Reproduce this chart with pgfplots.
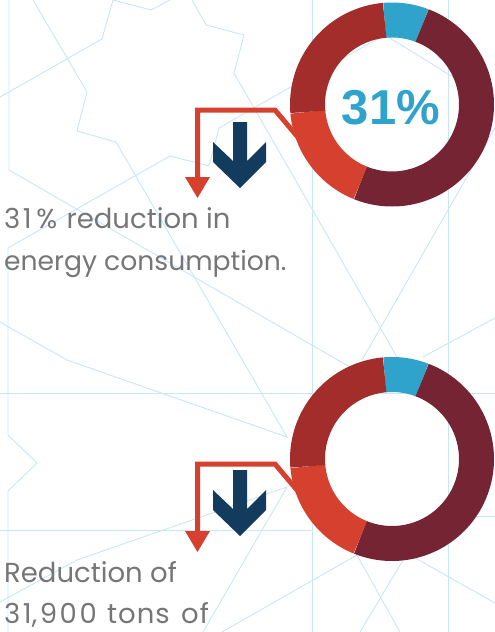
\documentclass[border=0pt]{standalone}
\usepackage{pgfplots}
\pgfplotsset{compat=1.18}
\usepackage{fontspec}
\setmainfont{Poppins}
\newfontfamily\numfont{Liberation Sans}
\definecolor{bgline}{HTML}{C6E7F7}
\definecolor{cblue}{HTML}{2FA3CB}
\definecolor{cmaroon}{HTML}{742432}
\definecolor{cbrick}{HTML}{A22D2B}
\definecolor{corange}{HTML}{D6402F}
\definecolor{cnavy}{HTML}{133B5E}
\definecolor{ctext}{HTML}{767676}
\tikzset{bg/.style={bgline,line width=0.9pt,solid,no marks}}
% donut shares (percent): blue 7.2, maroon 50.3, orange 17.5, brick 25.0 ; start angle -5 deg (clockwise from top)
\newcommand{\donut}[1]{%
  \addplot[cblue,no marks,line width=35pt,domain=-5:20.9,samples=30] ({392+84.5*sin(x)},{#1-84.5*cos(x)});
  \addplot[cmaroon,no marks,line width=35pt,domain=20.9:202,samples=90] ({392+84.5*sin(x)},{#1-84.5*cos(x)});
  \addplot[corange,no marks,line width=35pt,domain=202:265,samples=40] ({392+84.5*sin(x)},{#1-84.5*cos(x)});
  \addplot[cbrick,no marks,line width=35pt,domain=265:355,samples=50] ({392+84.5*sin(x)},{#1-84.5*cos(x)});
}
\newcommand{\dg}{\kern2.6pt}
\begin{document}
\begin{tikzpicture}
\begin{axis}[width=495pt,height=632pt,scale only axis,
  xmin=0,xmax=495,ymin=0,ymax=632,y dir=reverse,hide axis,clip=true]
% background pattern
\addplot[bg] coordinates {(9,0) (9,170) (362,374)};
\addplot[bg] coordinates {(8,248) (8,435) (37,463) (8,491) (8,632)};
\addplot[bg] coordinates {(8,248) (170,156) (209,166) (219,128) (280,93) (385,35) (453,77) (475,90)};
\addplot[bg] coordinates {(33,0) (87,92) (77,131) (116,142) (287,437) (67,360) (0,322)};
\addplot[bg] coordinates {(0,602) (77,560) (287,487) (203,632)};
\addplot[bg] coordinates {(0,393) (495,393)};
\addplot[bg] coordinates {(0,530) (312,530)};
\addplot[bg] coordinates {(312,0) (312,632)};
\addplot[bg] coordinates {(448,0) (448,632)};
\addplot[bg] coordinates {(192,0) (206,25) (244,35) (234,73) (397,357)};
\addplot[bg] coordinates {(0,97) (102,39) (113,0)};
\addplot[bg] coordinates {(113,0) (151,10) (170,0)};
\addplot[bg] coordinates {(495,128) (362,360)};
\addplot[bg] coordinates {(495,318) (423,357)};
\addplot[bg] coordinates {(222,632) (357,555) (400,632)};
\addplot[bg] coordinates {(403,560) (360,632)};
\addplot[bg] coordinates {(410,555) (495,603)};
\addplot[bg] coordinates {(467,516) (495,516)};
% connectors
\addplot[corange,no marks,line width=5pt,line join=miter] coordinates {(197.5,180) (197.5,110) (275,110) (302,142)};
\addplot[fill=corange,draw=none,no marks] coordinates {(185,177) (210,177) (197.5,198)};
\addplot[corange,no marks,line width=5pt,line join=miter] coordinates {(197.5,534) (197.5,464) (275,464) (302,496)};
\addplot[fill=corange,draw=none,no marks] coordinates {(185,531) (210,531) (197.5,552)};
% navy arrows
\addplot[fill=cnavy,draw=none,no marks] coordinates {(233,122) (247,122) (247,161) (266,142) (266,162) (240,188) (213,162) (213,142) (233,161)};
\addplot[fill=cnavy,draw=none,no marks] coordinates {(233,470) (247,470) (247,509) (266,490) (266,510) (240,536) (213,510) (213,490) (233,509)};
% donuts
\donut{104.5}
\donut{459}
% texts
\node[anchor=base,text=cblue,font=\numfont\bfseries\fontsize{49}{49}\selectfont,inner sep=0pt] at (axis cs:391,124) {31\%};
\node[anchor=base west,text=ctext,font=\fontsize{27.5}{30}\selectfont,inner sep=0pt] at (axis cs:4,228) {3\dg1\dg\kern2pt\%\kern2pt{} reduction in};
\node[anchor=base west,text=ctext,font=\fontsize{26.6}{30}\selectfont,inner sep=0pt] at (axis cs:4,270) {energy consumption.};
\node[anchor=base west,text=ctext,font=\fontsize{27.5}{30}\selectfont,inner sep=0pt] at (axis cs:4,582) {Reduction of};
\node[anchor=base west,text=ctext,font=\fontsize{27.5}{30}\selectfont,inner sep=0pt] at (axis cs:4,623) {3\dg1,\dg9\dg0\dg0\kern3pt{} t\kern1pt o\kern1pt n\kern1pt s\kern4pt{} o\kern1pt f};
\end{axis}
\end{tikzpicture}
\end{document}
